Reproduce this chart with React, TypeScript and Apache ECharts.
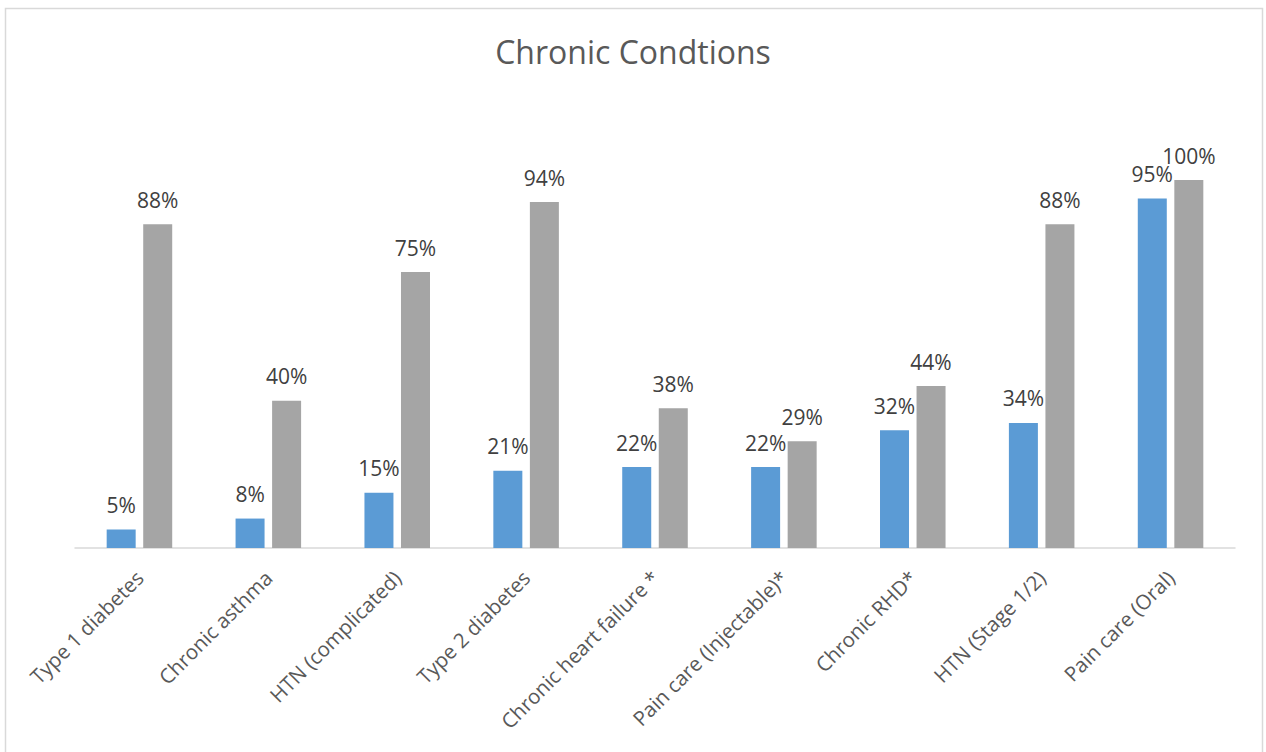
import React, { useEffect, useRef } from "react";
import * as echarts from "echarts";

const categories = [
  "Type 1 diabetes",
  "Chronic asthma",
  "HTN (complicated)",
  "Type 2 diabetes",
  "Chronic heart failure *",
  "Pain care (Injectable)*",
  "Chronic RHD*",
  "HTN (Stage 1/2)",
  "Pain care (Oral)",
];
const seriesA = [0.05, 0.08, 0.15, 0.21, 0.22, 0.22, 0.32, 0.34, 0.95];
const seriesB = [0.88, 0.4, 0.75, 0.94, 0.38, 0.29, 0.44, 0.88, 1.0];
const titleText = "Chronic Condtions";

export default function App() {
  const ref = useRef<HTMLDivElement>(null);
  useEffect(() => {
    if (!ref.current) return;
    const chart = echarts.init(ref.current, undefined, { renderer: "svg" });
    const fmt = (p: any) => Math.round(p.value * 100) + "%";
    const font = "'Open Sans', 'Noto Sans', sans-serif";
    const labelStyle = {
      show: true,
      position: "top",
      distance: 14,
      formatter: fmt,
      fontSize: 21,
      color: "#404040",
      fontFamily: font,
    };
    chart.setOption({
      animation: false,
      backgroundColor: "#ffffff",
      textStyle: { fontFamily: font },
      title: {
        text: titleText,
        left: "center",
        top: 30,
        textStyle: { fontSize: 32, fontWeight: "normal", color: "#595959", fontFamily: font },
      },
      graphic: [
        {
          type: "rect",
          shape: { x: 5.5, y: 8.5, width: 1257, height: 760 },
          style: { fill: "none", stroke: "#d9d9d9", lineWidth: 1.5 },
          silent: true,
        },
      ],
      grid: { left: 75, right: 31, top: 180, bottom: 204, containLabel: false },
      xAxis: {
        type: "category",
        data: categories,
        axisLine: { lineStyle: { color: "#d9d9d9", width: 1.5 } },
        axisTick: { show: false },
        axisLabel: {
          rotate: 45,
          interval: 0,
          margin: 26,
          fontSize: 20.5,
          color: "#595959",
          fontFamily: font,
        },
      },
      yAxis: {
        type: "value",
        min: 0,
        max: 1,
        show: false,
        splitLine: { show: false },
      },
      series: [
        {
          type: "bar",
          data: seriesA,
          barWidth: 29,
          barGap: "26%",
          itemStyle: { color: "#5B9BD5" },
          label: labelStyle,
        },
        {
          type: "bar",
          data: seriesB,
          barWidth: 29,
          barGap: "26%",
          itemStyle: { color: "#A5A5A5" },
          label: labelStyle,
        },
      ],
    });
    return () => chart.dispose();
  }, []);
  return (
    <div
      ref={ref}
      style={{ position: "absolute", left: 0, top: 0, width: 1266, height: 752 }}
    />
  );
}
